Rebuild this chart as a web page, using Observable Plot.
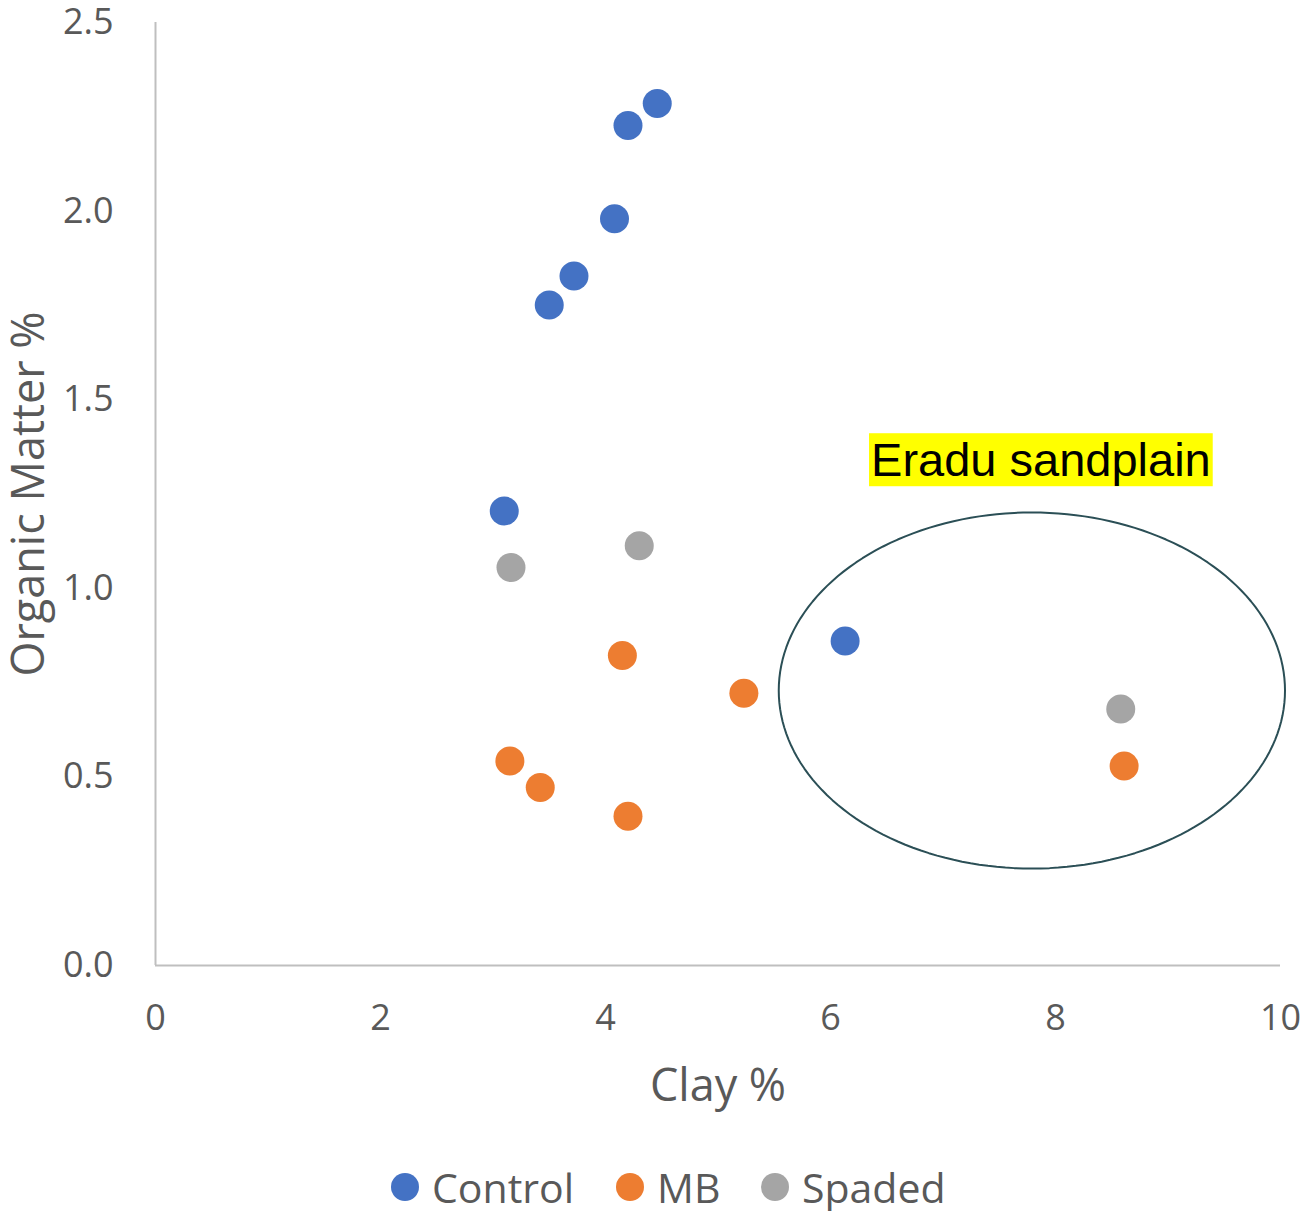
<!DOCTYPE html>
<html>
<head>
<meta charset="utf-8">
<script src="https://cdn.jsdelivr.net/npm/d3@7"></script>
<script src="https://cdn.jsdelivr.net/npm/@observablehq/plot@0.6"></script>
<style>
  html, body { margin: 0; padding: 0; background: #fff; }
  #legend { position: relative; height: 71px; font-family: "Open Sans", sans-serif; font-size: 41px; line-height: 1; color: #595959; }
  #legend .item { position: absolute; top: 0; display: flex; align-items: center; height: 50px; margin-top: 22px; }
  #legend .sw { width: 28px; height: 28px; border-radius: 50%; margin-right: 13px; }
</style>
</head>
<body>
<div id="chart"></div>
<div id="legend"></div>
<script>
// ---- data ----
const series = ["Control", "MB", "Spaded"];
const colors = ["#4472C4", "#ED7D31", "#A5A5A5"];

const controlClay = [4.46, 4.20, 4.08, 3.72, 3.50, 3.10, 6.13];
const controlOM   = [2.285, 2.227, 1.980, 1.828, 1.751, 1.205, 0.860];

const mbClay = [4.15, 5.23, 3.15, 3.42, 4.20, 8.61];
const mbOM   = [0.822, 0.722, 0.542, 0.472, 0.396, 0.529];

const spadedClay = [4.30, 3.16, 8.58];
const spadedOM   = [1.113, 1.055, 0.680];

const xTicks = [0, 2, 4, 6, 8, 10];
const yTicks = [0, 0.5, 1.0, 1.5, 2.0, 2.5];

// annotation (data units)
const noteText = ["Eradu sandplain"];
const noteX = [7.87];
const noteY = [1.337];
const ellipseCx = [7.79];
const ellipseCy = [0.729];
const ellipseRx = [2.25];
const ellipseRy = [0.472];

// ---- build tables ----
const points = [];
[[controlClay, controlOM, "Control"], [mbClay, mbOM, "MB"], [spadedClay, spadedOM, "Spaded"]]
  .forEach(([xs, ys, s]) => xs.forEach((x, i) => points.push({clay: x, om: ys[i], series: s})));

const ellipsePts = d3.range(0, 181).map(k => {
  const t = (k / 180) * 2 * Math.PI;
  return {x: ellipseCx[0] + ellipseRx[0] * Math.cos(t), y: ellipseCy[0] + ellipseRy[0] * Math.sin(t)};
});
const notes = noteText.map((t, i) => ({text: t, x: noteX[i], y: noteY[i]}));

const textColor = "#595959";
const axisColor = "#BFBFBF";

const chart = Plot.plot({
  width: 1307,
  height: 1140,
  marginLeft: 155,
  marginRight: 27,
  marginTop: 22,
  marginBottom: 175,
  style: {fontFamily: "'Open Sans', sans-serif", fontSize: "36px", color: textColor, background: "#fff", overflow: "visible"},
  x: {domain: [0, 10]},
  y: {domain: [0, 2.5]},
  color: {domain: series, range: colors},
  marks: [
    Plot.ruleY([0], {stroke: axisColor, strokeWidth: 2}),
    Plot.ruleX([0], {stroke: axisColor, strokeWidth: 2}),
    Plot.axisX({ticks: xTicks, tickSize: 0, tickPadding: 39, label: null, fill: textColor, fontSize: 36}),
    Plot.axisY({ticks: yTicks, tickSize: 0, tickPadding: 42, label: null, tickFormat: d3.format(".1f"), fill: textColor, fontSize: 36}),
    Plot.text(["Clay %"], {frameAnchor: "bottom", dy: 121, fontSize: 45, fill: textColor, lineAnchor: "middle", textAnchor: "middle"}),
    Plot.text(["Organic Matter %"], {frameAnchor: "left", dx: -126, rotate: -90, fontSize: 45, fill: textColor, lineAnchor: "middle", textAnchor: "middle"}),
    Plot.line(ellipsePts, {x: "x", y: "y", curve: "linear-closed", stroke: "#2B4F56", strokeWidth: 2}),
    Plot.dot(points, {x: "clay", y: "om", fill: "series", r: 14.5}),
    Plot.text(notes, {x: "x", y: "y", text: "text", fontSize: 47, fontFamily: "'Liberation Sans', Arial, sans-serif", fill: "#000", lineAnchor: "middle"})
  ]
});
document.getElementById("chart").appendChild(chart);

// yellow highlight behind the annotation text
chart.querySelectorAll("text").forEach(t => {
  if (noteText.includes(t.textContent)) {
    const b = t.getBBox();
    const r = document.createElementNS("http://www.w3.org/2000/svg", "rect");
    r.setAttribute("x", b.x - 2);
    r.setAttribute("y", b.y);
    r.setAttribute("width", b.width + 4);
    r.setAttribute("height", b.height);
    r.setAttribute("fill", "#FFFF00");
    if (t.getAttribute("transform")) r.setAttribute("transform", t.getAttribute("transform"));
    t.parentNode.insertBefore(r, t);
  }
});

// legend
const legendLeft = [391, 616, 761];
const legend = document.getElementById("legend");
series.forEach((s, i) => {
  const item = document.createElement("div");
  item.className = "item";
  item.style.left = legendLeft[i] + "px";
  const sw = document.createElement("span");
  sw.className = "sw";
  sw.style.background = colors[i];
  const lab = document.createElement("span");
  lab.textContent = s;
  item.appendChild(sw);
  item.appendChild(lab);
  legend.appendChild(item);
});
</script>
</body>
</html>
